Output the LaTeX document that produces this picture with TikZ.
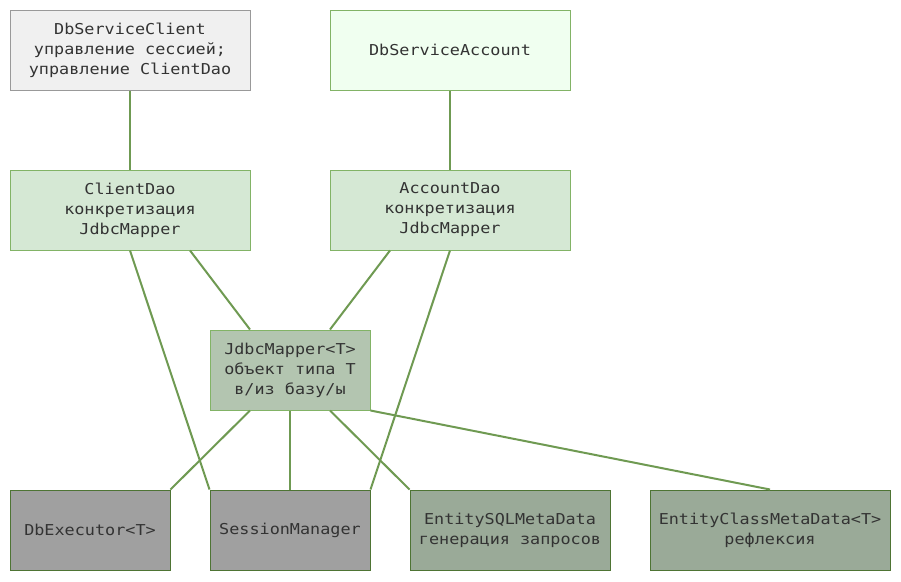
\documentclass[tikz,border=0pt]{standalone}
\usepackage{fontspec}
\setmonofont[FakeStretch=1.12]{DejaVu Sans Mono}
\definecolor{txt}{HTML}{333333}
\definecolor{edgeg}{HTML}{6F9A52}
\definecolor{brdg}{HTML}{82B366}
\definecolor{brdd}{HTML}{4E7434}
\definecolor{brdgray}{HTML}{999999}
\definecolor{fgray}{HTML}{F0F0F0}
\definecolor{fhoney}{HTML}{F0FFF0}
\definecolor{flight}{HTML}{D5E8D4}
\definecolor{fmid}{HTML}{B3C5B0}
\definecolor{fdark}{HTML}{A0A0A0}
\definecolor{fsage}{HTML}{9AAA98}
\tikzset{
  box/.style={draw, line width=1pt, minimum height=80pt, inner sep=0pt, align=center,
    text=txt, font=\ttfamily\fontsize{15}{20}\selectfont},
  conn/.style={draw=edgeg, line width=2pt},
}
\begin{document}
\begin{tikzpicture}[x=1pt,y=-1pt]
\useasboundingbox[fill=white] (0,0) rectangle (901,581);
\node[box, fill=fgray, draw=brdgray, minimum width=240pt] (dsc) at (130,50) {DbServiceClient\\управление сессией;\\управление ClientDao};
\node[box, fill=fhoney, draw=brdg, minimum width=240pt] (dsa) at (450,50) {DbServiceAccount};
\node[box, fill=flight, draw=brdg, minimum width=240pt] (cd) at (130,210) {ClientDao\\конкретизация\\JdbcMapper};
\node[box, fill=flight, draw=brdg, minimum width=240pt] (ad) at (450,210) {AccountDao\\конкретизация\\JdbcMapper};
\node[box, fill=fmid, draw=brdg, minimum width=160pt] (jm) at (290,370) {JdbcMapper<T>\\объект типа T\\в/из базу/ы};
\node[box, fill=fdark, draw=brdd, minimum width=160pt] (de) at (90,530) {DbExecutor<T>};
\node[box, fill=fdark, draw=brdd, minimum width=160pt] (sm) at (290,530) {SessionManager};
\node[box, fill=fsage, draw=brdd, minimum width=200pt] (esql) at (510,530) {EntitySQLMetaData\\генерация запросов};
\node[box, fill=fsage, draw=brdd, minimum width=240pt] (ecl) at (770,530) {EntityClassMetaData<T>\\рефлексия};
\draw[conn] (dsc.south) -- (cd.north);
\draw[conn] (dsa.south) -- (ad.north);
\draw[conn] (cd.south) -- (sm.north west);
\draw[conn] ([xshift=60pt]cd.south) -- ([xshift=-40pt]jm.north);
\draw[conn] ([xshift=-60pt]ad.south) -- ([xshift=40pt]jm.north);
\draw[conn] (ad.south) -- (sm.north east);
\draw[conn] ([xshift=-40pt]jm.south) -- (de.north east);
\draw[conn] (jm.south) -- (sm.north);
\draw[conn] ([xshift=40pt]jm.south) -- (esql.north west);
\draw[conn] (jm.south east) -- (ecl.north);
\end{tikzpicture}
\end{document}
